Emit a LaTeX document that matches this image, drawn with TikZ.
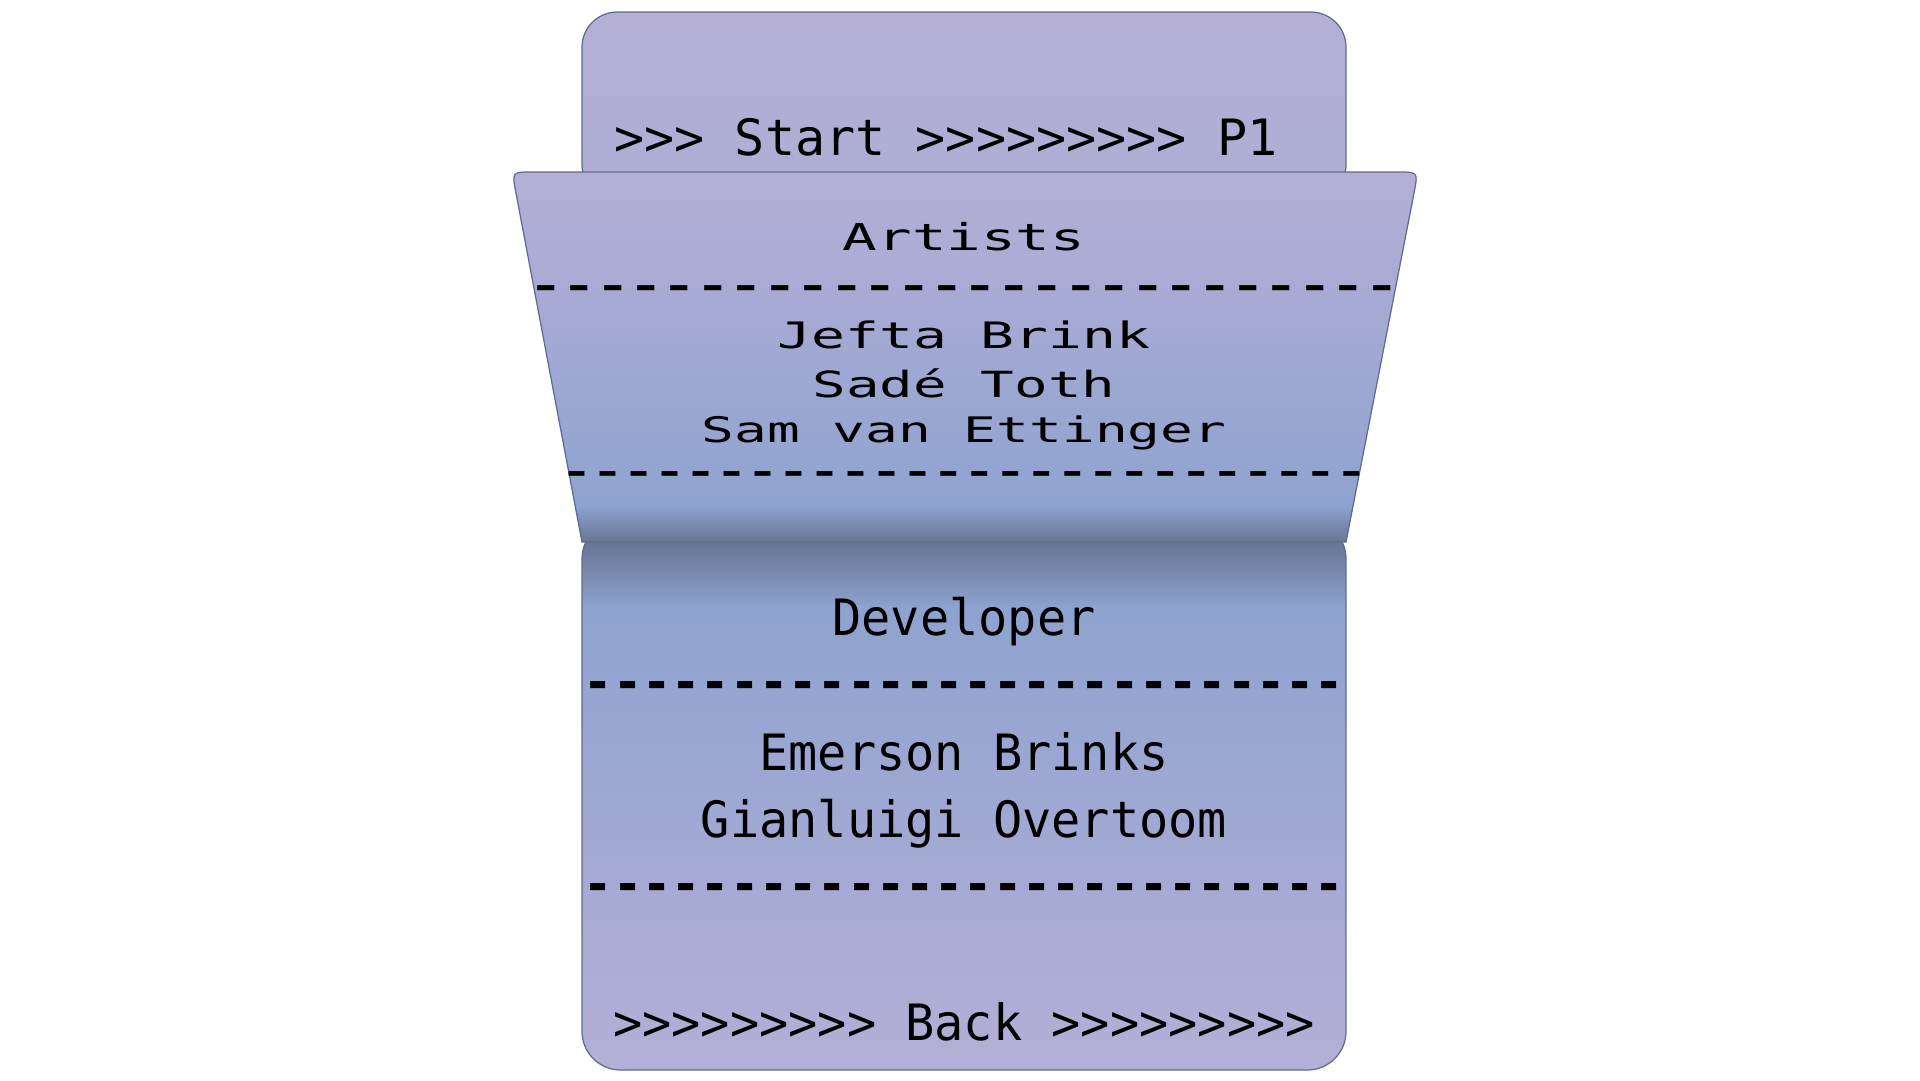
\documentclass[tikz,border=0pt]{standalone}
\usepackage{fontspec}
\newfontfamily\tabfont{DejaVu Sans Mono}
\newfontfamily\basefont[FakeStretch=0.97]{DejaVu Sans Mono}
\newfontfamily\flapfont[FakeStretch=1.55]{DejaVu Sans Mono}

\definecolor{lavTop}{HTML}{B5AFD6}
\definecolor{tabBot}{HTML}{ADADD4}
\definecolor{midBlue}{HTML}{8FA3D0}
\definecolor{foldDark}{HTML}{677594}
\definecolor{lavBot}{HTML}{B4AFD6}
\definecolor{panelEdge}{HTML}{5F6B8C}

\pgfdeclareverticalshading{flapshade}{100bp}{color(0bp)=(foldDark); color(25bp)=(foldDark); color(30bp)=(midBlue); color(75bp)=(lavTop); color(100bp)=(lavTop)}
\pgfdeclareverticalshading{baseshade}{100bp}{color(0bp)=(lavBot); color(25bp)=(lavBot); color(67bp)=(midBlue); color(73bp)=(foldDark); color(100bp)=(foldDark)}

\begin{document}
\begin{tikzpicture}[x=0.02cm, y=-0.02cm,
  panel/.style={draw=panelEdge, line width=0.7pt},
  tabtext/.style={font=\tabfont\fontsize{28.5}{34}\selectfont, inner sep=0, anchor=base},
  basetext/.style={font=\basefont\fontsize{28.5}{34}\selectfont, inner sep=0, anchor=base},
  baserule/.style={basetext, font=\basefont\bfseries\fontsize{28.5}{34}\selectfont},
  flaptext/.style={font=\flapfont\fontsize{#1}{#1}\selectfont, inner sep=0, anchor=base},
  flaprule/.style={flaptext=#1, font=\flapfont\bfseries\fontsize{#1}{#1}\selectfont}]
  \useasboundingbox (0,0) rectangle (1920,1080);

  \draw[panel, top color=lavTop, bottom color=tabBot, rounded corners=20] (582,12) rectangle (1346,200);
  \draw[panel, shade, shading=baseshade, rounded corners=22] (582,520) rectangle (1346,1070);
  \draw[panel, shade, shading=flapshade] (582,542) -- (515.7,191.6) .. controls (512,172) .. (532,172) -- (1398,172) .. controls (1418,172) .. (1414.3,191.6) -- (1346,542) -- cycle;

  \node[tabtext, anchor=base west] (start) at (614,155) {>>> Start >>>>>>>>> P1};

  \node[flaptext=21.1] (artists) at (964,250) {Artists};
  \node[flaprule=20.4] (rule1) at (964,298) {--------------------------};
  \node[flaptext=20.7] (jefta) at (964,348) {Jefta Brink};
  \node[flaptext=20.5] (sade) at (964,397) {Sadé Toth};
  \node[flaptext=20] (sam) at (964,442) {Sam van Ettinger};
  \node[flaprule=18.9] (rule2) at (964,483) {--------------------------};

  \node[basetext] (dev) at (964,635) {Developer};
  \node[baserule] (rule3) at (964,699) {--------------------------};
  \node[basetext] (emerson) at (964,770) {Emerson Brinks};
  \node[basetext] (gianluigi) at (964,837) {Gianluigi Overtoom};
  \node[baserule] (rule4) at (964,901) {--------------------------};

  \node[basetext] (back) at (964,1040) {>>>>>>>>> Back >>>>>>>>>};

\end{tikzpicture}
\end{document}
